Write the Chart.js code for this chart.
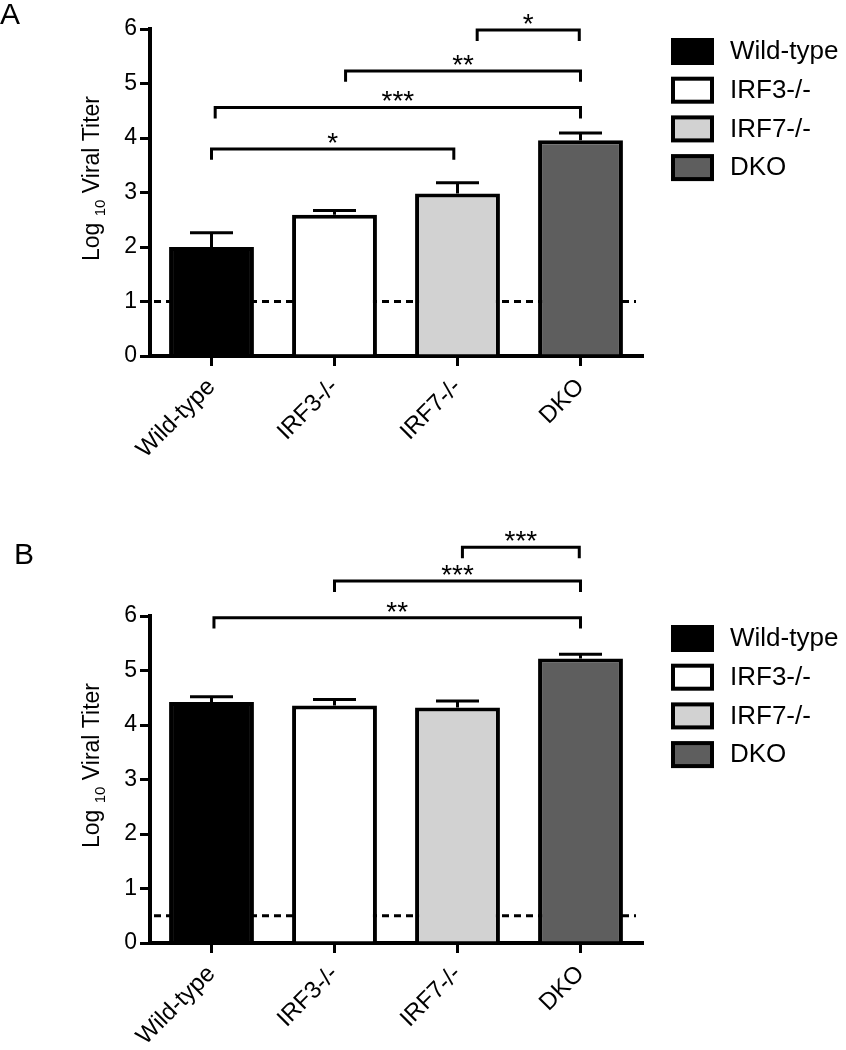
<!DOCTYPE html>
<html>
<head>
<meta charset="utf-8">
<script src="https://cdn.jsdelivr.net/npm/chart.js@4.4.1/dist/chart.umd.min.js"></script>
<style>
  body { margin: 0; background: #fff; }
  .panel { position: relative; width: 846px; height: 525px; }
  .tag { position: absolute; font: 30px "Liberation Sans", Arial, sans-serif; color: #000; }
  canvas { display: block; }
</style>
</head>
<body>
<div class="panel"><span class="tag" style="left:0;top:-3px">A</span><canvas id="chartA" width="846" height="525"></canvas></div>
<div class="panel"><span class="tag" style="left:14px;top:12px">B</span><canvas id="chartB" width="846" height="525"></canvas></div>
<script>
// data
const groups = ["Wild-type", "IRF3-/-", "IRF7-/-", "DKO"];
const barColors = ["#000000", "#ffffff", "#d2d2d2", "#5e5e5e"];

const titerA = [2.0, 2.59, 2.98, 3.96];
const semA = [0.26, 0.08, 0.2, 0.13];
const limitA = 1;
// [from group, to group, height, stars]
const bracketsA = [
  [0, 1.97, 3.8, "*"],
  [0.03, 3, 4.56, "***"],
  [1.09, 3, 5.23, "**"],
  [2.16, 2.99, 5.98, "*"],
];

const titerB = [4.42, 4.36, 4.32, 5.22];
const semB = [0.1, 0.11, 0.12, 0.08];
const limitB = 0.5;
const bracketsB = [
  [0.02, 3, 5.97, "**"],
  [1.0, 3, 6.64, "***"],
  [2.04, 2.99, 7.26, "***"],
];

const yMin = 0, yMax = 6, yStep = 1;
const FONT = '"Liberation Sans", Arial, sans-serif';

Chart.defaults.font.family = FONT;
Chart.defaults.color = "#000";

function panelPlugin(sem, limit, brackets) {
  return {
    id: "panel",
    beforeDatasetsDraw(chart) {
      // dashed detection limit
      const { ctx, chartArea, scales } = chart;
      const py = scales.y.getPixelForValue(limit);
      ctx.save();
      ctx.setLineDash([7, 5]);
      ctx.lineWidth = 3;
      ctx.strokeStyle = "#000";
      ctx.beginPath();
      ctx.moveTo(chartArea.left + 4, py);
      ctx.lineTo(chartArea.right - 6, py);
      ctx.stroke();
      ctx.restore();
    },
    afterDatasetsDraw(chart) {
      // error bars (upper only)
      const { ctx, scales } = chart;
      const meta = chart.getDatasetMeta(0);
      const vals = chart.data.datasets[0].data;
      ctx.save();
      ctx.strokeStyle = "#000";
      ctx.lineWidth = 3;
      meta.data.forEach((bar, i) => {
        const top = scales.y.getPixelForValue(vals[i] + sem[i]);
        const base = scales.y.getPixelForValue(vals[i]);
        ctx.beginPath();
        ctx.moveTo(bar.x, base);
        ctx.lineTo(bar.x, top);
        ctx.moveTo(bar.x - 21.5, top);
        ctx.lineTo(bar.x + 21.5, top);
        ctx.stroke();
      });
      ctx.restore();
    },
    afterDraw(chart) {
      const { ctx, chartArea, scales } = chart;
      const x = scales.x, y = scales.y;
      ctx.save();

      // significance brackets
      ctx.strokeStyle = "#000";
      ctx.fillStyle = "#000";
      ctx.lineWidth = 3;
      ctx.font = "28px " + FONT;
      ctx.textAlign = "center";
      ctx.textBaseline = "alphabetic";
      brackets.forEach(([a, b, h, stars]) => {
        const x1 = x.getPixelForValue(a);
        const x2 = x.getPixelForValue(b);
        const py = y.getPixelForValue(h);
        const leg = y.getPixelForValue(h - 0.2);
        ctx.beginPath();
        ctx.moveTo(x1, leg);
        ctx.lineTo(x1, py);
        ctx.lineTo(x2, py);
        ctx.lineTo(x2, leg);
        ctx.stroke();
        ctx.fillText(stars, (x1 + x2) / 2, py + 3);
      });

      // legend
      const lx = chartArea.right + 29;
      ctx.textAlign = "left";
      ctx.textBaseline = "middle";
      ctx.font = "26px " + FONT;
      groups.forEach((g, i) => {
        const top = chartArea.top + 9 + i * 38.7;
        ctx.fillStyle = "#000";
        ctx.fillRect(lx, top, 43, 27);
        ctx.fillStyle = barColors[i];
        ctx.fillRect(lx + 4, top + 4, 35, 19);
        ctx.fillStyle = "#000";
        ctx.fillText(g, lx + 59, top + 14);
      });

      // y axis title with subscript
      const cy = (chartArea.top + chartArea.bottom) / 2 - 14;
      ctx.translate(99, cy);
      ctx.rotate(-Math.PI / 2);
      const big = "23px " + FONT, small = "15px " + FONT;
      ctx.font = big;
      const w1 = ctx.measureText("Log ").width;
      const w3 = ctx.measureText(" Viral Titer").width;
      ctx.font = small;
      const w2 = ctx.measureText("10").width;
      let cx = -(w1 + w2 + w3) / 2;
      ctx.textBaseline = "alphabetic";
      ctx.font = big;
      ctx.fillText("Log ", cx, 0);
      cx += w1;
      ctx.font = small;
      ctx.fillText("10", cx, 6);
      cx += w2;
      ctx.font = big;
      ctx.fillText(" Viral Titer", cx, 0);
      ctx.restore();
    },
  };
}

function makePanel(id, values, sem, limit, brackets, topPad, xAxisH) {
  const axisGrid = {
    display: true,
    drawOnChartArea: false,
    drawTicks: true,
    tickLength: 10,
    lineWidth: 3,
    color: "#000",
    offset: false,
  };
  const axisBorder = { display: true, width: 4, color: "#000" };
  return new Chart(document.getElementById(id), {
    type: "bar",
    data: {
      labels: groups,
      datasets: [
        {
          data: values,
          backgroundColor: barColors,
          borderColor: "#000",
          borderWidth: 4,
          borderSkipped: "start",
          barPercentage: 0.69,
          categoryPercentage: 1,
        },
      ],
    },
    options: {
      responsive: false,
      animation: false,
      devicePixelRatio: 1,
      layout: { padding: { left: 0, right: 204, top: topPad, bottom: 0 } },
      plugins: { legend: { display: false }, tooltip: { enabled: false } },
      scales: {
        x: {
          offset: true,
          grid: axisGrid,
          border: axisBorder,
          ticks: {
            autoSkip: false,
            minRotation: 45,
            maxRotation: 45,
            padding: 7,
            font: { size: 24 },
          },
          afterFit(s) {
            s.height = xAxisH;
          },
        },
        y: {
          min: yMin,
          max: yMax,
          grid: axisGrid,
          border: axisBorder,
          ticks: { stepSize: yStep, padding: 3, font: { size: 23 } },
          afterFit(s) {
            s.width = 150;
          },
        },
      },
    },
    plugins: [panelPlugin(sem, limit, brackets)],
  });
}

makePanel("chartA", titerA, semA, limitA, bracketsA, 29, 169);
makePanel("chartB", titerB, semB, limitB, bracketsB, 91, 107);
</script>
</body>
</html>
